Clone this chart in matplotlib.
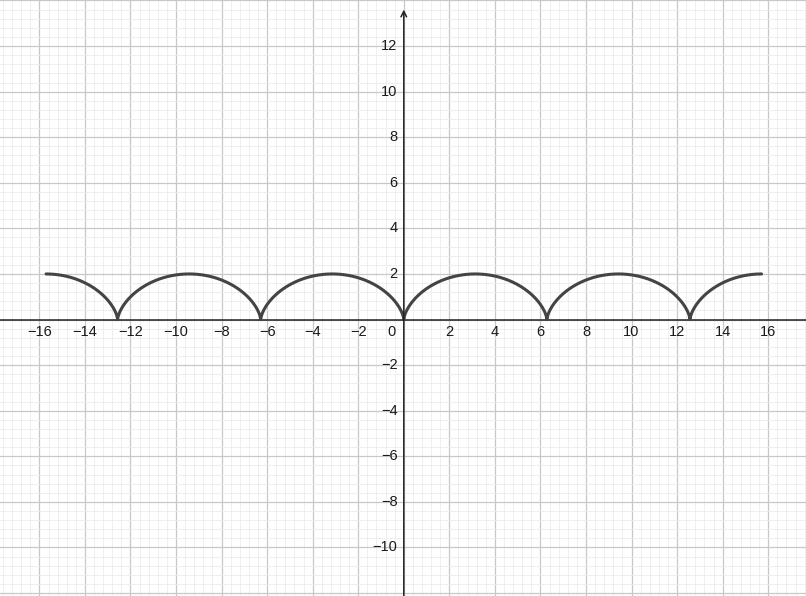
import numpy as np
import matplotlib.pyplot as plt
from matplotlib.ticker import MultipleLocator

# cycloid x = r(t - sin t), y = r(1 - cos t)
radius = 1.0
t_start = -5 * np.pi
t_end = 5 * np.pi

x_ticks = [-16, -14, -12, -10, -8, -6, -4, -2, 2, 4, 6, 8, 10, 12, 14, 16]
y_ticks = [-10, -8, -6, -4, -2, 2, 4, 6, 8, 10, 12]

x_range = (-17.73, 17.66)
y_range = (-12.13, 14.02)


def fmt(v):
    return str(v).replace('-', '\u2212')


def main():
    plt.rcParams['font.family'] = ['Liberation Sans', 'DejaVu Sans']

    fig = plt.figure(figsize=(8.06, 5.96), dpi=100)
    ax = fig.add_axes([0, 0, 1, 1])
    ax.set_xlim(*x_range)
    ax.set_ylim(*y_range)

    # grid
    ax.xaxis.set_major_locator(MultipleLocator(2))
    ax.yaxis.set_major_locator(MultipleLocator(2))
    ax.xaxis.set_minor_locator(MultipleLocator(0.4))
    ax.yaxis.set_minor_locator(MultipleLocator(0.4))
    ax.grid(which='major', color='#c8c8c8', lw=0.9)
    ax.grid(which='minor', color='#ececec', lw=0.6)
    ax.set_axisbelow(True)
    ax.tick_params(which='both', length=0, labelbottom=False, labelleft=False)
    for s in ax.spines.values():
        s.set_visible(False)

    # axes (x axis runs off the right edge, y axis ends in an arrow)
    ax.axhline(0, color='#222222', lw=1.1)
    ax.annotate('', xy=(0, 13.6), xytext=(0, y_range[0]),
                arrowprops=dict(arrowstyle='->', lw=1.1, color='#222222',
                                shrinkA=0, shrinkB=0))

    for v in x_ticks:
        ax.text(v, -0.55, fmt(v), ha='center', va='center', fontsize=10.5,
                color='#1a1a1a')
    ax.text(-0.53, -0.55, '0', ha='center', va='center', fontsize=10.5,
            color='#1a1a1a')
    for v in y_ticks:
        ax.text(-0.28, v, fmt(v), ha='right', va='center', fontsize=10.5,
                color='#1a1a1a')

    # curve
    t = np.linspace(t_start, t_end, 2000)
    x = radius * (t - np.sin(t))
    y = radius * (1 - np.cos(t))
    ax.plot(x, y, color='#444444', lw=2.2, solid_capstyle='round')

    fig.savefig('out.png', dpi=100)


if __name__ == "__main__":
    main()
